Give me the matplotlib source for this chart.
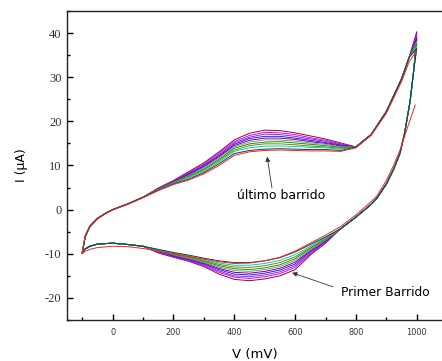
import numpy as np
import matplotlib
matplotlib.use('Agg')
from matplotlib import pyplot as plt
from matplotlib.ticker import MultipleLocator


# anodic sweep (-100 -> 1000 mV), parts where all scans overlap
v_up_start = [-100, -90, -75, -50, -25, 0, 50, 100]
i_up_start = [-9.8, -6.0, -3.8, -2.0, -0.9, 0.0, 1.3, 2.8]
v_up_mid = [150, 200, 250, 300, 350, 400, 450, 500, 550, 600, 650, 700, 750]
v_up_end = [800, 850, 900, 950, 975]
i_up_end = [14.2, 17.0, 22.2, 29.6, 34.5]

# anodic currents per scan (first scan -> last scan) in the spread region
i_up_mid = [
    [4.9, 6.6, 8.6, 10.6, 13.1, 15.8, 17.3, 18.0, 17.9, 17.4, 16.7, 16.0, 15.1],
    [4.8, 6.5, 8.4, 10.3, 12.8, 15.4, 16.8, 17.5, 17.4, 17.0, 16.3, 15.7, 14.9],
    [4.8, 6.4, 8.2, 10.1, 12.5, 15.1, 16.4, 17.1, 17.0, 16.6, 16.0, 15.5, 14.7],
    [4.7, 6.3, 8.1, 9.9, 12.2, 14.8, 16.1, 16.6, 16.6, 16.2, 15.7, 15.2, 14.6],
    [4.7, 6.3, 7.9, 9.7, 12.0, 14.5, 15.7, 16.2, 16.2, 15.9, 15.4, 15.0, 14.4],
    [4.6, 6.2, 7.7, 9.5, 11.7, 14.2, 15.3, 15.8, 15.8, 15.5, 15.1, 14.8, 14.2],
    [4.6, 6.1, 7.6, 9.2, 11.4, 13.9, 14.9, 15.3, 15.4, 15.1, 14.8, 14.5, 14.1],
    [4.5, 6.0, 7.4, 9.0, 11.1, 13.5, 14.5, 14.9, 14.9, 14.7, 14.4, 14.2, 13.9],
    [4.5, 5.9, 7.2, 8.7, 10.8, 13.2, 14.0, 14.4, 14.4, 14.3, 14.1, 14.0, 13.7],
    [4.4, 5.8, 6.9, 8.4, 10.4, 12.7, 13.4, 13.7, 13.8, 13.7, 13.6, 13.6, 13.4],
]
i_switch = [40.3, 39.8, 39.3, 38.9, 38.5, 38.1, 37.7, 37.3, 36.9, 36.5]

# cathodic sweep (1000 -> -100 mV)
v_dn_start = [990, 978, 960, 945, 925, 900, 868, 850, 800, 750]
i_dn_start = [31.5, 24.5, 17.3, 12.8, 9.3, 5.8, 2.5, 1.2, -1.7, -4.3]
v_dn_mid = [700, 650, 600, 550, 500, 450, 400, 350, 300, 250, 200, 150]
v_dn_end = [100, 50, 0, -50, -75, -90, -100]
i_dn_end = [-8.3, -7.9, -7.6, -7.8, -8.3, -8.9, -9.8]

i_dn_mid = [
    [-7.6, -10.3, -13.6, -15.0, -15.7, -16.1, -15.8, -14.6, -12.9, -11.7, -10.8, -9.8],
    [-7.4, -10.0, -13.1, -14.5, -15.2, -15.6, -15.3, -14.2, -12.7, -11.5, -10.7, -9.7],
    [-7.3, -9.8, -12.7, -14.1, -14.8, -15.2, -15.0, -13.9, -12.5, -11.4, -10.6, -9.6],
    [-7.2, -9.5, -12.3, -13.7, -14.4, -14.8, -14.6, -13.6, -12.3, -11.3, -10.5, -9.5],
    [-7.0, -9.3, -11.9, -13.3, -14.0, -14.4, -14.2, -13.3, -12.1, -11.1, -10.3, -9.5],
    [-6.9, -9.1, -11.5, -12.9, -13.6, -14.0, -13.8, -13.0, -11.9, -11.0, -10.2, -9.4],
    [-6.7, -8.8, -11.1, -12.5, -13.2, -13.6, -13.4, -12.7, -11.7, -10.8, -10.1, -9.3],
    [-6.6, -8.6, -10.7, -12.0, -12.7, -13.1, -13.0, -12.4, -11.5, -10.7, -10.0, -9.2],
    [-6.4, -8.3, -10.2, -11.5, -12.2, -12.6, -12.6, -12.1, -11.3, -10.5, -9.9, -9.1],
    [-6.2, -7.9, -9.6, -10.9, -11.6, -12.0, -12.0, -11.6, -11.0, -10.3, -9.7, -9.0],
]

scan_colors = ['#99003d', '#e000e0', '#8a2be2', '#2020ff', '#800080',
               '#909090', '#00a000', '#808000', '#00c8c8', '#0f3f3f']

# red scan (starts at 995 mV going cathodic, then one anodic sweep)
v_red = [995, 978, 960, 945, 925, 900, 868, 850, 800, 750, 700, 650, 600, 550,
         500, 450, 400, 350, 300, 250, 200, 150, 100, 50, 0, -50, -75, -90, -100,
         -90, -75, -50, -25, 0, 50, 100, 150, 200, 250, 300, 350, 400, 450, 500,
         550, 600, 650, 700, 750, 800, 850, 900, 950, 975, 1000]
i_red = [23.7, 20.3, 16.6, 13.5, 10.2, 6.6, 3.0, 1.8, -1.2, -3.8, -5.8, -7.6, -9.4,
         -10.8, -11.6, -12.1, -12.2, -11.8, -11.2, -10.6, -10.0, -9.4, -8.8, -8.4,
         -8.3, -8.6, -9.0, -9.4, -10.0,
         -6.2, -4.0, -2.1, -1.0, -0.1, 1.2, 2.7, 4.3, 5.7, 6.7, 8.1, 10.0, 12.3,
         13.1, 13.4, 13.5, 13.4, 13.3, 13.3, 13.2, 14.0, 16.8, 21.8, 29.0, 33.5, 36.0]


def main():
    plt.rcParams['axes.unicode_minus'] = False
    fig = plt.figure(figsize=(4.42, 3.61), dpi=100)
    ax = fig.add_axes([0.1516, 0.1136, 0.8484, 0.856])

    for k in range(len(i_up_mid)):
        v = v_up_start + v_up_mid + v_up_end + [1000] + v_dn_start + v_dn_mid + v_dn_end
        i = (i_up_start + i_up_mid[k] + i_up_end + [i_switch[k]]
             + i_dn_start + i_dn_mid[k] + i_dn_end)
        ax.plot(v, i, color=scan_colors[k], lw=0.7)
    ax.plot(v_red, i_red, color='#ff2020', lw=0.7)

    ax.set_xlim(-150, 1083)
    ax.set_ylim(-25, 45)
    ax.xaxis.set_major_locator(MultipleLocator(200))
    ax.xaxis.set_minor_locator(MultipleLocator(100))
    ax.yaxis.set_major_locator(MultipleLocator(10))
    ax.yaxis.set_minor_locator(MultipleLocator(5))
    ax.tick_params(which='both', direction='in', top=False, right=False, width=1.0)
    ax.tick_params(which='major', length=4)
    ax.tick_params(which='minor', length=2.5)
    ax.tick_params(axis='x', labelsize=5.9, pad=6, labelcolor='#333333')
    ax.tick_params(axis='y', labelsize=9, pad=4, labelcolor='#333333')
    for lab in ax.get_yticklabels():
        lab.set_family('Liberation Serif')
    ax.spines['right'].set_visible(False)
    for s in ['left', 'bottom', 'top']:
        ax.spines[s].set_linewidth(1.0)
        ax.spines[s].set_color('#222222')

    ax.set_xlabel('V (mV)', fontsize=9.5, labelpad=8)
    ax.set_ylabel('I (\u03bcA)', fontsize=9, labelpad=12)

    ax.annotate('', xy=(508, 12.0), xytext=(524, 4.9),
                arrowprops=dict(arrowstyle='-|>', lw=0.6, color='#333333',
                                mutation_scale=7, shrinkA=0, shrinkB=0))
    ax.text(553, 3.3, 'último barrido', fontsize=9, ha='center', va='center')
    ax.annotate('', xy=(590, -14.3), xytext=(725, -17.5),
                arrowprops=dict(arrowstyle='-|>', lw=0.6, color='#333333',
                                mutation_scale=7, shrinkA=0, shrinkB=0))
    ax.text(896, -18.8, 'Primer Barrido', fontsize=8.8, ha='center', va='center')

    fig.savefig('out.png', dpi=100)


if __name__ == '__main__':
    main()
